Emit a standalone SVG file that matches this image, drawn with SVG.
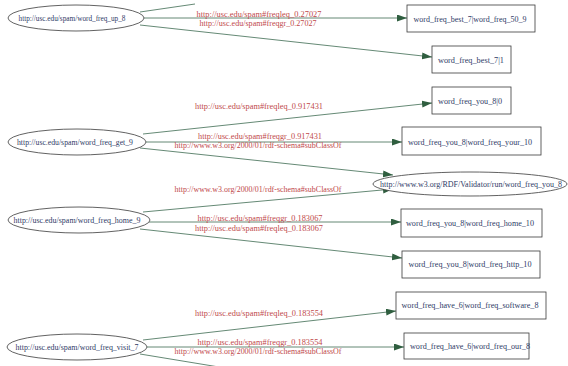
<svg xmlns="http://www.w3.org/2000/svg" width="568" height="366" viewBox="0 0 568 366">
<style>
.bg{fill:#ffffff}
.node ellipse,.node rect{fill:#ffffff;stroke:#3a3a3a;stroke-width:0.8}
.node text{font-family:"Liberation Serif",serif;font-size:7.5px;fill:#2e3a66;text-anchor:middle;dominant-baseline:central}
.edges path{fill:none;stroke:#3d6b52;stroke-width:0.8}
.lbl{font-family:"Liberation Serif",serif;font-size:7.5px;fill:#c0484a;text-anchor:middle;dominant-baseline:central}
</style>
<defs>
<marker id="arr" markerUnits="userSpaceOnUse" markerWidth="11" markerHeight="8" refX="10" refY="3.5" orient="auto">
<path d="M0,0 L10,3.5 L0,7 z" fill="#2f5e3f"/>
</marker>
</defs>
<rect class="bg" x="0" y="0" width="568" height="366"/>
<g class="edges">
<path d="M140,12 L195,4"/>
<path d="M144,18 L407,18" marker-end="url(#arr)"/>
<path d="M140,25 L432,57" marker-end="url(#arr)"/>
<path d="M143,134 L432,103" marker-end="url(#arr)"/>
<path d="M146,142 L402,142" marker-end="url(#arr)"/>
<path d="M140,148 L393,175" marker-end="url(#arr)"/>
<path d="M143,212 L393,189" marker-end="url(#arr)"/>
<path d="M149,222 L401,222" marker-end="url(#arr)"/>
<path d="M140,229 L402,258" marker-end="url(#arr)"/>
<path d="M143,340 L396,311" marker-end="url(#arr)"/>
<path d="M147,347 L404,347" marker-end="url(#arr)"/>
<path d="M140,354 L225,368"/>
<text class="lbl" x="259" y="14" textLength="125" lengthAdjust="spacingAndGlyphs">http://usc.edu/spam#freqleq_0.27027</text>
<text class="lbl" x="258" y="23" textLength="117" lengthAdjust="spacingAndGlyphs">http://usc.edu/spam#freqgr_0.27027</text>
<text class="lbl" x="259" y="106" textLength="128" lengthAdjust="spacingAndGlyphs">http://usc.edu/spam#freqleq_0.917431</text>
<text class="lbl" x="260" y="136" textLength="124" lengthAdjust="spacingAndGlyphs">http://usc.edu/spam#freqgr_0.917431</text>
<text class="lbl" x="258" y="145" textLength="167" lengthAdjust="spacingAndGlyphs">http://www.w3.org/2000/01/rdf-schema#subClassOf</text>
<text class="lbl" x="258" y="189" textLength="167" lengthAdjust="spacingAndGlyphs">http://www.w3.org/2000/01/rdf-schema#subClassOf</text>
<text class="lbl" x="260" y="218" textLength="125" lengthAdjust="spacingAndGlyphs">http://usc.edu/spam#freqgr_0.183067</text>
<text class="lbl" x="259" y="228" textLength="128" lengthAdjust="spacingAndGlyphs">http://usc.edu/spam#freqleq_0.183067</text>
<text class="lbl" x="259" y="313" textLength="128" lengthAdjust="spacingAndGlyphs">http://usc.edu/spam#freqleq_0.183554</text>
<text class="lbl" x="260" y="342" textLength="125" lengthAdjust="spacingAndGlyphs">http://usc.edu/spam#freqgr_0.183554</text>
<text class="lbl" x="258" y="351" textLength="167" lengthAdjust="spacingAndGlyphs">http://www.w3.org/2000/01/rdf-schema#subClassOf</text>
</g>
<g id="n_up8" class="node"><ellipse cx="76" cy="18" rx="68" ry="13"/><text x="72" y="18" textLength="107" lengthAdjust="spacingAndGlyphs">http://usc.edu/spam/word_freq_up_8</text></g>
<g id="n_get9" class="node"><ellipse cx="77" cy="142" rx="69" ry="13"/><text x="75" y="142" textLength="116" lengthAdjust="spacingAndGlyphs">http://usc.edu/spam/word_freq_get_9</text></g>
<g id="n_home9" class="node"><ellipse cx="79" cy="220" rx="71" ry="13"/><text x="77" y="220" textLength="127" lengthAdjust="spacingAndGlyphs">http://usc.edu/spam/word_freq_home_9</text></g>
<g id="n_visit7" class="node"><ellipse cx="77" cy="347" rx="70" ry="13"/><text x="77" y="347" textLength="123" lengthAdjust="spacingAndGlyphs">http://usc.edu/spam/word_freq_visit_7</text></g>
<g id="n_you8" class="node"><ellipse cx="470" cy="184" rx="97" ry="12"/><text x="471" y="184" textLength="182" lengthAdjust="spacingAndGlyphs">http://www.w3.org/RDF/Validator/run/word_freq_you_8</text></g>
<g id="b_best50" class="node"><rect x="407" y="5" width="128" height="27"/><text x="470" y="19" textLength="113" lengthAdjust="spacingAndGlyphs">word_freq_best_7|word_freq_50_9</text></g>
<g id="b_best1" class="node"><rect x="432" y="46" width="79" height="27"/><text x="471" y="60" textLength="66" lengthAdjust="spacingAndGlyphs">word_freq_best_7|1</text></g>
<g id="b_you0" class="node"><rect x="432" y="87" width="79" height="27"/><text x="470" y="101" textLength="64" lengthAdjust="spacingAndGlyphs">word_freq_you_8|0</text></g>
<g id="b_youyour" class="node"><rect x="402" y="127" width="139" height="28"/><text x="470" y="142" textLength="124" lengthAdjust="spacingAndGlyphs">word_freq_you_8|word_freq_your_10</text></g>
<g id="b_youhome" class="node"><rect x="401" y="209" width="141" height="28"/><text x="470" y="223" textLength="128" lengthAdjust="spacingAndGlyphs">word_freq_you_8|word_freq_home_10</text></g>
<g id="b_youhttp" class="node"><rect x="402" y="251" width="138" height="27"/><text x="470" y="264" textLength="123" lengthAdjust="spacingAndGlyphs">word_freq_you_8|word_freq_http_10</text></g>
<g id="b_havesoft" class="node"><rect x="396" y="292" width="150" height="27"/><text x="470" y="305" textLength="137" lengthAdjust="spacingAndGlyphs">word_freq_have_6|word_freq_software_8</text></g>
<g id="b_haveour" class="node"><rect x="404" y="333" width="125" height="26"/><text x="470" y="346" textLength="120" lengthAdjust="spacingAndGlyphs">word_freq_have_6|word_freq_our_8</text></g>
</svg>
